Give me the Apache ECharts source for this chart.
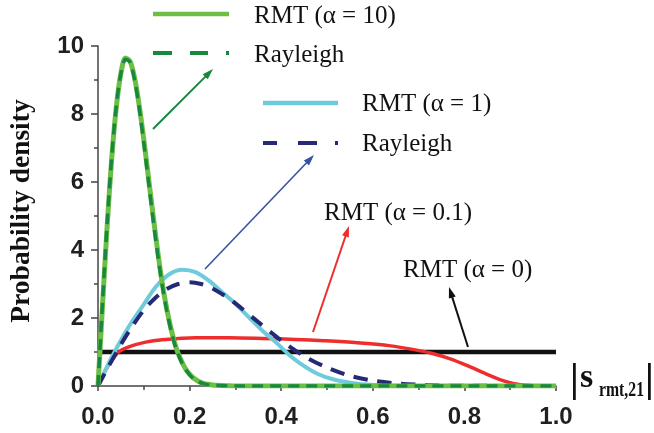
<!DOCTYPE html>
<html><head><meta charset="utf-8">
<script src="https://cdn.jsdelivr.net/npm/echarts@6/dist/echarts.min.js"></script>
<style>html,body{margin:0;padding:0;background:#fff}#c{width:654px;height:433px}</style>
</head><body><div id="c"></div>
<script>
// ---- data ----
const xTickLabels = ['0.0', '0.2', '0.4', '0.6', '0.8', '1.0'];
const yTickLabels = ['0', '2', '4', '6', '8', '10'];

const rmt10X = [0, 0.01, 0.02, 0.03, 0.04, 0.05, 0.06, 0.07, 0.08, 0.09, 0.10, 0.11, 0.12, 0.13, 0.14, 0.15, 0.16, 0.17, 0.18, 0.19, 0.20, 0.21, 0.22, 0.23, 0.24, 0.25, 0.26, 0.28, 0.30, 1.0];
const rmt10Y = [0, 2.40, 4.70, 6.70, 8.20, 9.20, 9.65, 9.55, 9.05, 8.25, 7.25, 6.15, 5.05, 4.00, 3.05, 2.28, 1.65, 1.15, 0.80, 0.53, 0.35, 0.22, 0.13, 0.08, 0.05, 0.03, 0.02, 0.01, 0, 0];

const ray10X = [0, 0.01, 0.02, 0.03, 0.04, 0.05, 0.06, 0.07, 0.08, 0.09, 0.10, 0.11, 0.12, 0.13, 0.14, 0.15, 0.16, 0.17, 0.18, 0.19, 0.20, 0.21, 0.22, 0.23, 0.24, 0.25, 0.27, 0.30, 1.0];
const ray10Y = [0, 2.49, 4.79, 6.75, 8.24, 9.19, 9.61, 9.52, 9.00, 8.17, 7.15, 6.04, 4.93, 3.90, 2.98, 2.22, 1.60, 1.12, 0.77, 0.51, 0.33, 0.20, 0.12, 0.07, 0.04, 0.02, 0.01, 0, 0];

const rmt1X = [0, 0.01, 0.02, 0.038, 0.067, 0.096, 0.126, 0.155, 0.184, 0.213, 0.242, 0.271, 0.300, 0.329, 0.358, 0.388, 0.417, 0.442, 0.479, 0.515, 0.566, 0.617, 0.67, 1.0];
const rmt1Y = [0, 0.28, 0.58, 1.05, 1.74, 2.32, 2.91, 3.28, 3.42, 3.35, 3.10, 2.76, 2.42, 2.03, 1.64, 1.29, 0.92, 0.66, 0.36, 0.19, 0.07, 0.02, 0, 0];

const ray1X = [0, 0.02, 0.05, 0.075, 0.10, 0.125, 0.15, 0.175, 0.20, 0.225, 0.25, 0.275, 0.30, 0.35, 0.40, 0.45, 0.50, 0.55, 0.60, 0.65, 0.70, 0.75, 0.80, 1.0];
const ray1Y = [0, 0.50, 1.22, 1.76, 2.23, 2.59, 2.85, 3.00, 3.05, 3.00, 2.87, 2.67, 2.43, 1.88, 1.34, 0.88, 0.54, 0.30, 0.16, 0.08, 0.04, 0.015, 0.006, 0];

const rmt01X = [0, 0.01, 0.02, 0.03, 0.045, 0.067, 0.104, 0.14, 0.213, 0.286, 0.358, 0.431, 0.493, 0.566, 0.639, 0.69, 0.726, 0.769, 0.813, 0.85, 0.879, 0.908, 0.937, 0.96, 1.0];
const rmt01Y = [0, 0.30, 0.55, 0.75, 1.00, 1.15, 1.29, 1.36, 1.42, 1.42, 1.40, 1.37, 1.33, 1.27, 1.18, 1.07, 0.97, 0.80, 0.56, 0.34, 0.18, 0.07, 0.02, 0, 0];

const rmt0X = [0, 1.0];
const rmt0Y = [1, 1];

const legendLabels = ['RMT (\u03B1 = 10)', 'Rayleigh', 'RMT (\u03B1 = 1)', 'Rayleigh'];
const annotLabels = ['RMT (\u03B1 = 0.1)', 'RMT (\u03B1 = 0)'];
const yAxisTitle = 'Probability density';
const xAxisMain = 's';
const xAxisSub = 'rmt,21';

// ---- styles ----
const C = {
  lg: '#6cbe45', dg: '#17893e', lb: '#6fcbdc', nv: '#252a74', rd: '#ee2d2d', bk: '#111111'
};
const zip = (xs, ys) => xs.map((x, i) => [x, ys[i]]);
const SERIF = '"Liberation Serif", "Times New Roman", serif';
const SANS = '"Liberation Sans", Arial, sans-serif';
const AX = '#444';

function arrow(x1, y1, x2, y2, color, w) {
  const dx = x2 - x1, dy = y2 - y1, L = Math.hypot(dx, dy);
  const ux = dx / L, uy = dy / L, hl = 11, hw = 3.6;
  const bx = x2 - ux * hl, by = y2 - uy * hl;
  return [
    { type: 'line', z: 100, shape: { x1, y1, x2: bx + ux * 2, y2: by + uy * 2 }, style: { stroke: color, lineWidth: w } },
    { type: 'polygon', z: 100, shape: { points: [[x2, y2], [bx - uy * hw, by + ux * hw], [bx + uy * hw, by - ux * hw]] }, style: { fill: color } }
  ];
}
function seg(x1, x2, y, color, w) {
  return { type: 'line', z: 100, shape: { x1, y1: y, x2, y2: y }, style: { stroke: color, lineWidth: w } };
}
function txt(x, y, s, font, size, weight, extra, align) {
  return Object.assign({ type: 'text', z: 100, x, y, style: { text: s, fontFamily: font, fontSize: size, fontWeight: weight || 'normal', fill: '#111', align: align || 'left', verticalAlign: 'middle' } }, extra || {});
}

const graphics = [
  // legend group 1
  seg(153, 229, 14, C.lg, 4.5),
  txt(254, 16, legendLabels[0], SERIF, 25),
  seg(153, 172, 53, C.dg, 4), seg(190, 208, 53, C.dg, 4), seg(226, 229, 53, C.dg, 4),
  txt(254, 55, legendLabels[1], SERIF, 25),
  // legend group 2
  seg(263, 338, 103, C.lb, 4.5),
  txt(362, 104, legendLabels[2], SERIF, 25),
  seg(263, 277, 143, C.nv, 4), seg(298, 317, 143, C.nv, 4), seg(335, 338, 143, C.nv, 4),
  txt(362, 144, legendLabels[3], SERIF, 25),
  // annotations
  txt(324, 213, annotLabels[0], SERIF, 25),
  txt(403, 270, annotLabels[1], SERIF, 25),
  ...arrow(153, 129, 213, 69, C.dg, 2),
  ...arrow(205, 269, 314, 155, '#3553a5', 1.6),
  ...arrow(313, 332, 349, 226, C.rd, 2),
  ...arrow(468, 347, 449, 287, C.bk, 2),
  // y axis title
  txt(22, 211, yAxisTitle, SERIF, 27.5, 'bold', { rotation: Math.PI / 2 }, 'center'),
  // x axis name
  txt(570, 381, '|', SERIF, 40, 'bold'),
  txt(580, 378, xAxisMain, SERIF, 34, 'bold'),
  txt(599, 391, xAxisSub, SERIF, 21, 'bold', { scaleX: 0.75 }),
  txt(645, 381, '|', SERIF, 40, 'bold')
];

const labelStyle = { fontFamily: SANS, fontSize: 24, fontWeight: 'bold', color: '#231f20' };

const chart = echarts.init(document.getElementById('c'), null, { renderer: 'canvas' });
chart.setOption({
  animation: false,
  backgroundColor: '#fff',
  grid: { left: 98, right: 98, top: 46, bottom: 47, containLabel: false, outerBoundsMode: 'none' },
  xAxis: [
    {
      type: 'value', min: 0, max: 1, interval: 0.2,
      axisLine: { show: true, lineStyle: { color: AX, width: 1.5 } },
      axisTick: { show: true, inside: false, length: 5, lineStyle: { color: AX, width: 1.5 } },
      splitLine: { show: false },
      axisLabel: Object.assign({ margin: 19, formatter: v => xTickLabels[Math.round(v / 0.2)] }, labelStyle)
    },
    {
      type: 'value', min: 0, max: 1, interval: 0.1, position: 'bottom',
      axisLine: { show: false },
      axisTick: { show: true, inside: false, length: 4, lineStyle: { color: AX, width: 1.5 } },
      splitLine: { show: false }, axisLabel: { show: false }
    }
  ],
  yAxis: [
    {
      type: 'value', min: 0, max: 10, interval: 2,
      axisLine: { show: true, lineStyle: { color: AX, width: 1.5 } },
      axisTick: { show: true, inside: false, length: 7, lineStyle: { color: AX, width: 1.5 } },
      splitLine: { show: false },
      axisLabel: Object.assign({ margin: 14, formatter: v => yTickLabels[Math.round(v / 2)] }, labelStyle)
    },
    {
      type: 'value', min: 0, max: 10, interval: 1, position: 'left',
      axisLine: { show: false },
      axisTick: { show: true, inside: false, length: 4, lineStyle: { color: AX, width: 1.5 } },
      splitLine: { show: false }, axisLabel: { show: false }
    }
  ],
  series: [
    { name: 'RMT (α = 0)', type: 'line', data: zip(rmt0X, rmt0Y), showSymbol: false, z: 2,
      lineStyle: { color: C.bk, width: 4.5 } },
    { name: 'RMT (α = 0.1)', type: 'line', data: zip(rmt01X, rmt01Y), showSymbol: false, smooth: 0.3, z: 3,
      lineStyle: { color: C.rd, width: 3.5 } },
    { name: 'RMT (α = 1)', type: 'line', data: zip(rmt1X, rmt1Y), showSymbol: false, smooth: 0.3, z: 4,
      lineStyle: { color: C.lb, width: 4 } },
    { name: 'Rayleigh (α = 1)', type: 'line', data: zip(ray1X, ray1Y), showSymbol: false, smooth: 0.3, z: 5,
      lineStyle: { color: C.nv, width: 4, type: [14, 10] } },
    { name: 'RMT (α = 10)', type: 'line', data: zip(rmt10X, rmt10Y), showSymbol: false, smooth: 0.3, z: 6,
      lineStyle: { color: C.lg, width: 5 } },
    { name: 'Rayleigh (α = 10)', type: 'line', data: zip(ray10X, ray10Y), showSymbol: false, smooth: 0.3, z: 7,
      lineStyle: { color: C.dg, width: 3.5, type: [11, 7] } }
  ],
  graphic: graphics
});
</script>
</body></html>
